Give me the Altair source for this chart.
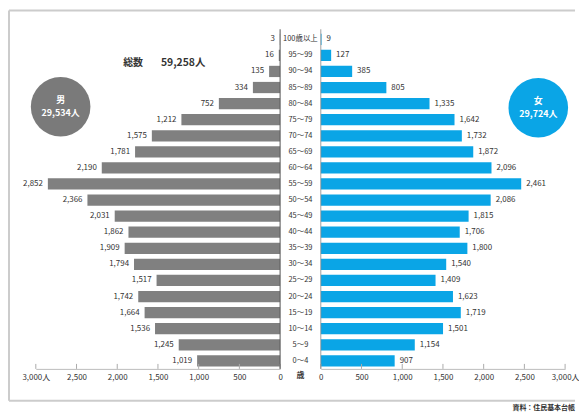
import altair as alt
import pandas as pd

FONT = "Noto Sans CJK JP"

ages = ["100歳以上", "95〜99", "90〜94", "85〜89", "80〜84", "75〜79", "70〜74",
        "65〜69", "60〜64", "55〜59", "50〜54", "45〜49", "40〜44", "35〜39",
        "30〜34", "25〜29", "20〜24", "15〜19", "10〜14", "5〜9", "0〜4"]
male = [3, 16, 135, 334, 752, 1212, 1575, 1781, 2190, 2852, 2366, 2031, 1862,
        1909, 1794, 1517, 1742, 1664, 1536, 1245, 1019]
female = [9, 127, 385, 805, 1335, 1642, 1732, 1872, 2096, 2461, 2086, 1815,
          1706, 1800, 1540, 1409, 1623, 1719, 1501, 1154, 907]
ticks = [0, 500, 1000, 1500, 2000, 2500, 3000]
total_title = ["総数", "59,258人"]
male_badge = ["男", "29,534人"]
female_badge = ["女", "29,724人"]
age_unit = "歳"
source = "資料：住民基本台帳"

W, MID, H = 246, 41, 340
MALE_C = "#808080"
MALE_BADGE_C = "#7a7a7a"
FEMALE_C = "#0aa5e6"
TXT = "#333333"

mdf = pd.DataFrame({"age": ages, "value": male, "label": [f"{v:,}" for v in male]})
fdf = pd.DataFrame({"age": ages, "value": female, "label": [f"{v:,}" for v in female]})
tdf = pd.DataFrame({"t": ticks})
one = pd.DataFrame({"a": [0]})

yenc = alt.Y("age:N", sort=ages,
             scale=alt.Scale(domain=ages, paddingInner=0.3, paddingOuter=0.15),
             axis=None)

label_expr = "datum.value == 3000 ? '3,000人' : format(datum.value, ',')"


def make_axis():
    return alt.Axis(values=ticks, tickSize=0, labelExpr=label_expr, labelFontSize=8,
                    labelColor=TXT, labelFont=FONT, labelPadding=5, domainColor="#bbbbbb",
                    domainWidth=1, grid=False, title=None, labelOverlap=False,
                    labelFlush=False)


# ---------------- left (male) ----------------
xl = alt.Scale(domain=[0, 3000], reverse=True, nice=False)
lbars = alt.Chart(mdf).mark_bar(color=MALE_C).encode(
    x=alt.X("value:Q", scale=xl, axis=make_axis()), y=yenc)
ltext = alt.Chart(mdf).mark_text(align="right", dx=-5, fontSize=8, font=FONT, color=TXT).encode(
    x=alt.X("value:Q", scale=xl), y=yenc, text="label:N")
lticks = alt.Chart(tdf).mark_rule(color="#aaaaaa").encode(
    x=alt.X("t:Q", scale=xl), y=alt.value(H - 5), y2=alt.value(H))
lzero = alt.Chart(one).mark_rule(color="#555555", strokeWidth=1).encode(
    x=alt.datum(0), y=alt.value(-2), y2=alt.value(H))
frame_l = alt.Chart(one).mark_rule(color="#cccccc", strokeWidth=2).encode(
    x=alt.value(-27), y=alt.value(-21), y2=alt.value(372))
frame_t = alt.Chart(one).mark_rule(color="#cccccc", strokeWidth=2).encode(
    x=alt.value(-27), x2=alt.value(543), y=alt.value(-21))
frame_b = alt.Chart(one).mark_rule(color="#cccccc", strokeWidth=2).encode(
    x=alt.value(-27), x2=alt.value(543), y=alt.value(372))
MCX = 25
mcircle = alt.Chart(one).mark_point(shape="circle", filled=True, size=3600,
                                    color=MALE_BADGE_C, opacity=1).encode(
    x=alt.value(MCX), y=alt.value(76))
mb1 = alt.Chart(one).mark_text(fontSize=9, font=FONT, color="white", fontWeight="bold").encode(
    x=alt.value(MCX), y=alt.value(69), text=alt.value(male_badge[0]))
mb2 = alt.Chart(one).mark_text(fontSize=9, font=FONT, color="white", fontWeight="bold").encode(
    x=alt.value(MCX), y=alt.value(82), text=alt.value(male_badge[1]))
tt1 = alt.Chart(one).mark_text(fontSize=10, font=FONT, color=TXT, fontWeight="bold", align="left").encode(
    x=alt.value(88), y=alt.value(32), text=alt.value(total_title[0]))
tt2 = alt.Chart(one).mark_text(fontSize=10.5, font=FONT, color=TXT, fontWeight="bold", align="left").encode(
    x=alt.value(126), y=alt.value(32), text=alt.value(total_title[1]))

left = alt.layer(lbars, ltext, lticks, lzero, frame_l, frame_t, frame_b,
                 mcircle, mb1, mb2, tt1, tt2).properties(width=W, height=H)

# ---------------- middle (age labels) ----------------
mid_labels = alt.Chart(pd.DataFrame({"age": ages})).mark_text(
    fontSize=7.5, font=FONT, color=TXT).encode(
    x=alt.value(MID / 2), y=yenc, text="age:N")
mid_unit = alt.Chart(one).mark_text(fontSize=8, font=FONT, color=TXT, fontWeight="bold").encode(
    x=alt.value(MID / 2), y=alt.value(H + 7), text=alt.value(age_unit))
middle = alt.layer(mid_labels, mid_unit).properties(width=MID, height=H)

# ---------------- right (female) ----------------
xr = alt.Scale(domain=[0, 3000], nice=False)
rbars = alt.Chart(fdf).mark_bar(color=FEMALE_C).encode(
    x=alt.X("value:Q", scale=xr, axis=make_axis()), y=yenc)
rtext = alt.Chart(fdf).mark_text(align="left", dx=5, fontSize=8, font=FONT, color=TXT).encode(
    x=alt.X("value:Q", scale=xr), y=yenc, text="label:N")
rticks = alt.Chart(tdf).mark_rule(color="#aaaaaa").encode(
    x=alt.X("t:Q", scale=xr), y=alt.value(H - 5), y2=alt.value(H))
rzero = alt.Chart(one).mark_rule(color="#888888", strokeWidth=0.8).encode(
    x=alt.datum(0), y=alt.value(-2), y2=alt.value(H))
fcircle = alt.Chart(one).mark_point(shape="circle", filled=True, size=3600,
                                    color=FEMALE_C, opacity=1).encode(
    x=alt.value(219), y=alt.value(77))
fb1 = alt.Chart(one).mark_text(fontSize=9, font=FONT, color="white", fontWeight="bold").encode(
    x=alt.value(219), y=alt.value(70), text=alt.value(female_badge[0]))
fb2 = alt.Chart(one).mark_text(fontSize=9, font=FONT, color="white", fontWeight="bold").encode(
    x=alt.value(219), y=alt.value(83), text=alt.value(female_badge[1]))
src = alt.Chart(one).mark_text(fontSize=7, font=FONT, color=TXT, align="left", fontWeight="bold").encode(
    x=alt.value(193), y=alt.value(379), text=alt.value(source))

right = alt.layer(rbars, rtext, rticks, rzero, fcircle, fb1, fb2, src).properties(width=W, height=H)

chart = alt.hconcat(left, middle, right, spacing=0, bounds="flush").properties(
    padding=0).configure_view(stroke=None)

chart.save("out.html", embed_options={"renderer": "svg", "actions": False})
